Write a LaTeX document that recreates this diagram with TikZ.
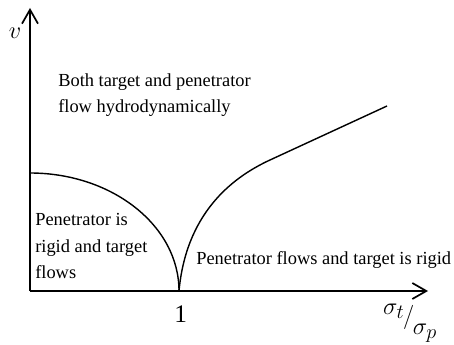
\documentclass[tikz,border=0pt]{standalone}
\usepackage{fontspec}
\setmainfont{Liberation Serif}
\usepackage{amsmath}
\usetikzlibrary{arrows.meta}

\begin{document}
\begin{tikzpicture}[
    axis/.style={line width=1.2pt, -{Straight Barb[length=3.5mm,width=4mm,line width=1.2pt]}},
    boundary/.style={line width=1pt},
    regionlabel/.style={anchor=west, align=left, inner sep=0pt,
        font=\fontsize{13.1}{18.8}\selectfont}
]
    \useasboundingbox (-0.75,-1.325) rectangle (10.6,7.275);
        % axes
            \draw [axis] (0,0) -- (0,7.075);
            \draw [axis] (0,0) -- (9.95,0);
            \node (vlabel) at (-0.375,6.45) {\fontsize{17}{17}\selectfont$v$};
            \node (one) at (3.77,-0.58) {\fontsize{18}{18}\selectfont 1};
            \node (ratio) at (9.5,-0.8) {\fontsize{19}{19}\selectfont\raisebox{0.8ex}{$\sigma_t$}\kern-1pt$/$\kern-1pt\raisebox{-0.9ex}{$\sigma_p$}};
        % boundaries
            \draw [boundary] (0,2.95) arc (90:0:3.725 and 2.95);
            \draw [boundary] (3.725,0) .. controls (3.9,1.9) and (5.0,2.815) .. (6.0,3.275) -- (8.925,4.625);
        % regions
            \node[regionlabel] (hydro) at (0.7,4.9) {Both target and penetrator\\flow hydrodynamically};
            \node[regionlabel] (rigidpen) at (0.125,1.125) {Penetrator is\\rigid and target\\flows};
            \node[regionlabel] (rigidtgt) at (4.15,0.775) {Penetrator flows and target is rigid};
\end{tikzpicture}
\end{document}
